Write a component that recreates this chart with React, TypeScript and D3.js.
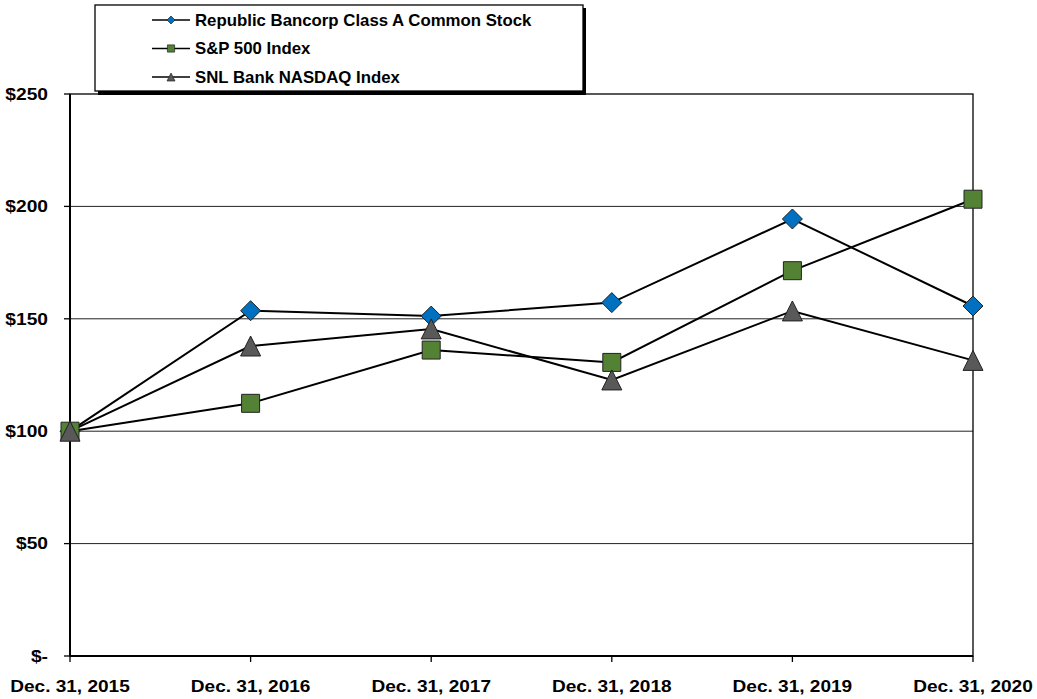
import React from 'react';
import * as d3 from 'd3';

const categories = ['Dec. 31, 2015', 'Dec. 31, 2016', 'Dec. 31, 2017', 'Dec. 31, 2018', 'Dec. 31, 2019', 'Dec. 31, 2020'];
const republic = [100, 153.6, 151.2, 157.2, 194.4, 155.7];
const sp500 = [100, 112.4, 136.1, 130.6, 171.4, 203.2];
const snlBank = [100, 137.9, 145.5, 122.8, 153.5, 131.5];
const yTicks = [0, 50, 100, 150, 200, 250];

const series = [
  { name: 'Republic Bancorp Class A Common Stock', values: republic, color: '#0070C0', shape: 'diamond' },
  { name: 'S&P 500 Index', values: sp500, color: '#548235', shape: 'square' },
  { name: 'SNL Bank NASDAQ Index', values: snlBank, color: '#595959', shape: 'triangle' },
];

const font = '"Liberation Sans", Arial, sans-serif';

const marker = (shape: string, x: number, y: number, s: number) => {
  if (shape === 'diamond') return `M${x},${y - s} L${x + s},${y} L${x},${y + s} L${x - s},${y} Z`;
  if (shape === 'square') return `M${x - s * 0.9},${y - s * 0.9} h${s * 1.8} v${s * 1.8} h${-s * 1.8} Z`;
  return `M${x},${y - s} L${x + s},${y + s} L${x - s},${y + s} Z`;
};

const App = () => {
  const width = 1037;
  const height = 699;
  const left = 70, right = 973, top = 94, bottom = 656;

  const x = d3.scalePoint<string>().domain(categories).range([left, right]);
  const y = d3.scaleLinear().domain([0, 250]).range([bottom, top]);

  const line = d3.line<number>()
    .x((_d, i) => x(categories[i]) as number)
    .y(d => y(d));

  return (
    <svg width={width} height={height} style={{ position: 'absolute', left: 0, top: 0, background: 'white' }}>
      {/* grid */}
      {yTicks.filter(t => t > 0 && t < 250).map(t => (
        <line key={t} x1={left} x2={right} y1={y(t)} y2={y(t)} stroke="#222" strokeWidth={1} />
      ))}
      {/* plot border */}
      <rect x={left} y={top} width={right - left} height={bottom - top} fill="none" stroke="#000" strokeWidth={1.3} />
      <line x1={left} x2={right} y1={bottom} y2={bottom} stroke="#000" strokeWidth={2} />
      <line x1={left} x2={left} y1={top} y2={bottom} stroke="#000" strokeWidth={2} />
      {/* y ticks */}
      {yTicks.map(t => (
        <g key={t}>
          <line x1={left - 6} x2={left} y1={y(t)} y2={y(t)} stroke="#000" strokeWidth={1.3} />
          <text transform={`translate(48,${y(t)}) scale(1.2,1)`} dy="0.36em" textAnchor="end" fontFamily={font} fontWeight="bold" fontSize={16}>
            {t === 0 ? '$-' : `$${t}`}
          </text>
        </g>
      ))}
      {/* x ticks */}
      {categories.map(c => (
        <g key={c}>
          <line x1={x(c)} x2={x(c)} y1={bottom} y2={bottom + 6} stroke="#000" strokeWidth={1.3} />
          <text transform={`translate(${x(c)},692) scale(1.19,1)`} textAnchor="middle" fontFamily={font} fontWeight="bold" fontSize={16}>{c}</text>
        </g>
      ))}
      {/* lines + markers */}
      {series.map(s => (
        <g key={s.name}>
          <path d={line(s.values) as string} fill="none" stroke="#000" strokeWidth={2} />
        </g>
      ))}
      {series.map(s => (
        <g key={s.name + 'm'}>
          {s.values.map((v, i) => (
            <path key={i} d={marker(s.shape, x(categories[i]) as number, y(v), 10)} fill={s.color} stroke="#222" strokeWidth={1} />
          ))}
        </g>
      ))}
      {/* legend */}
      <rect x={98} y={8} width={488} height={87} fill="#000" />
      <rect x={95} y={5} width={488} height={86} fill="#fff" stroke="#000" strokeWidth={1.3} />
      {series.map((s, i) => {
        const ly = 20 + i * 28.5;
        return (
          <g key={s.name + 'l'}>
            <line x1={152} x2={190} y1={ly} y2={ly} stroke="#000" strokeWidth={1.5} />
            <path d={marker(s.shape, 171, ly, 4)} fill={s.color} stroke="#222" strokeWidth={0.7} />
            <text transform={`translate(195,${ly}) scale(1.05,1)`} dy="0.36em" fontFamily={font} fontWeight="bold" fontSize={16}>{s.name}</text>
          </g>
        );
      })}
    </svg>
  );
};

export default App;
